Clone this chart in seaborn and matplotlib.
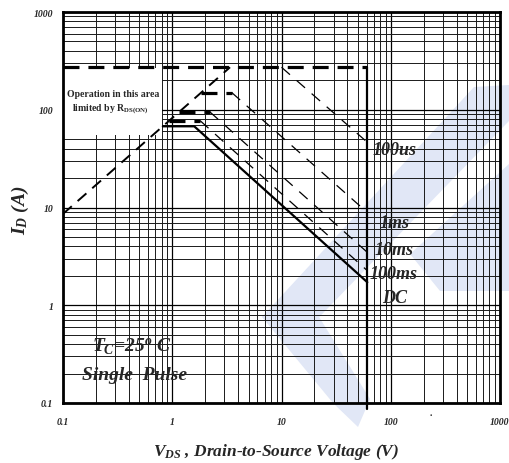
import numpy as np
import pandas as pd
import matplotlib
matplotlib.use("Agg")
import matplotlib.pyplot as plt
import seaborn as sns
from matplotlib.patches import Polygon, Rectangle
from matplotlib.ticker import LogLocator, NullFormatter, FixedLocator, FixedFormatter

# ---- data: safe operating area ----
x_ticks = [0.1, 1, 10, 100, 1000]
x_tick_labels = ["0.1", "1", "10", "100", "1000"]
y_ticks = [0.1, 1, 10, 100, 1000]
y_tick_labels = ["0.1", "1", "10", "100", "1000"]

# R_DS(on) limit line
rds_v = [0.1, 3.38]
rds_i = [8.6, 272]

# package current limit and breakdown voltage
i_max = 272
v_bv = 61

# pulse-width curves
curve_names = ["100us", "1ms", "10ms", "100ms", "DC"]
flat_current = [272, 150, 95.5, 77.3, 67.7]
flat_start_v = [3.38, 1.85, 1.15, 0.93, 0.82]
knee_v = [10.0, 3.5, 2.2, 1.8, 1.59]
end_current = [46.5, 8.9, 3.48, 2.26, 1.72]

# label anchor positions for each curve (V, A)
label_v = [68, 79, 71, 64, 84]
label_i = [39.6, 7.1, 3.76, 2.09, 1.21]

# ---- style ----
sns.set_style("white")
plt.rcParams["font.family"] = ["Liberation Serif", "DejaVu Serif"]
plt.rcParams["mathtext.fontset"] = "custom"
plt.rcParams["mathtext.it"] = "Liberation Serif:bold:italic"
plt.rcParams["mathtext.rm"] = "Liberation Serif:bold"
plt.rcParams["mathtext.bf"] = "Liberation Serif:bold"

W, H = 509, 464
fig = plt.figure(figsize=(W / 100, H / 100), dpi=100)
ax = fig.add_axes([63 / W, 1 - 404 / H, 437 / W, 391 / H])
ax.set_facecolor("none")

# faint logo watermark behind the chart
wm_color = "#e1e7f6"
def px(points):
    return [(x / W, 1 - y / H) for x, y in points]

wm_shapes = [
    [(474, 88), (509, 86), (509, 122), (300, 338), (262, 318)],
    [(262, 318), (298, 284), (370, 400), (358, 428), (333, 404)],
    [(410, 255), (509, 165), (509, 292), (440, 292)],
]
for shp in wm_shapes:
    fig.patches.append(Polygon(px(shp), closed=True, transform=fig.transFigure,
                               facecolor=wm_color, edgecolor="none", zorder=-5))

ax.set_xscale("log")
ax.set_yscale("log")
ax.set_xlim(0.1, 1000)
ax.set_ylim(0.1, 1000)

ax.xaxis.set_major_locator(FixedLocator(x_ticks))
ax.xaxis.set_major_formatter(FixedFormatter(x_tick_labels))
ax.yaxis.set_major_locator(FixedLocator(y_ticks))
ax.yaxis.set_major_formatter(FixedFormatter(y_tick_labels))
ax.xaxis.set_minor_locator(LogLocator(base=10, subs=np.arange(2, 10), numticks=20))
ax.yaxis.set_minor_locator(LogLocator(base=10, subs=np.arange(2, 10), numticks=20))
ax.xaxis.set_minor_formatter(NullFormatter())
ax.yaxis.set_minor_formatter(NullFormatter())
ax.tick_params(which="both", length=0)
ax.tick_params(axis="x", pad=10)
ax.tick_params(axis="y", pad=7)
for lab in ax.get_xticklabels() + ax.get_yticklabels():
    lab.set_fontsize(7)
    lab.set_fontweight("bold")
    lab.set_fontstyle("italic")

ax.set_axisbelow(True)
ax.grid(True, which="major", color="black", lw=0.9)
ax.grid(True, which="minor", color="#1a1a1a", lw=0.7)
for sp in ax.spines.values():
    sp.set_linewidth(2.0)
    sp.set_color("black")

# white panel behind the R_DS(on) note
ax.add_patch(Rectangle((0.1, 55.2), 0.805 - 0.1, 270 - 55.2, facecolor="white",
                       edgecolor="none", zorder=1.5))
ax.text(0.29, 145, "Operation in this area", ha="center", va="center",
        fontsize=7, fontweight="bold", zorder=3)
ax.text(0.27, 102, r"limited by R$_{\mathrm{DS(ON)}}$", ha="center", va="center",
        fontsize=7, fontweight="bold", zorder=3)

def draw(xs, ys, lw, ls):
    df = pd.DataFrame({"V": xs, "I": ys})
    sns.lineplot(data=df, x="V", y="I", ax=ax, color="black", lw=lw,
                 linestyle=ls, estimator=None, sort=False, zorder=4,
                 legend=False)

# R_DS(on) limit
draw(rds_v, rds_i, 1.4, (0, (6, 4)))
# current limit across the top
draw([0.1, v_bv], [i_max, i_max], 2.3, (0, (5, 2.8)))
# breakdown-voltage boundary
draw([v_bv, v_bv], [i_max, 0.087], 1.6, "-")
ax.lines[-1].set_clip_on(False)

for k, name in enumerate(curve_names):
    if name == "DC":
        draw([flat_start_v[k], knee_v[k], v_bv],
             [flat_current[k], flat_current[k], end_current[k]], 1.6, "-")
    else:
        if flat_current[k] < i_max:
            draw([flat_start_v[k], knee_v[k]], [flat_current[k], flat_current[k]],
                 2.3, (0, (5, 2.8)))
        draw([knee_v[k], v_bv], [flat_current[k], end_current[k]], 0.9,
             (0, (9, 7)))
    ax.text(label_v[k], label_i[k], name, ha="left", va="center",
            fontsize=13, fontweight="bold", fontstyle="italic", zorder=5)

ax.text(0.185, 0.383, r"$T_C$=25$^o$ C", ha="left", va="center",
        fontsize=14, fontweight="bold", fontstyle="italic", zorder=5)
ax.text(0.148, 0.198, "Single  Pulse", ha="left", va="center",
        fontsize=14, fontweight="bold", fontstyle="italic", zorder=5)

ax.set_xlabel("")
ax.set_ylabel("")
fig.text(20 / W, 1 - 210 / H, r"$I_D$ (A)", rotation=90, ha="center", va="center",
         fontsize=14, fontweight="bold", fontstyle="italic")
fig.text(276 / W, 1 - 452 / H, r"$V_{DS}$ , Drain-to-Source Voltage (V)",
         ha="center", va="center", fontsize=12.5, fontweight="bold",
         fontstyle="italic")
fig.text(431 / W, 1 - 414 / H, ".", ha="center", va="center", fontsize=7,
         fontweight="bold")

fig.savefig("out.png", dpi=100)
